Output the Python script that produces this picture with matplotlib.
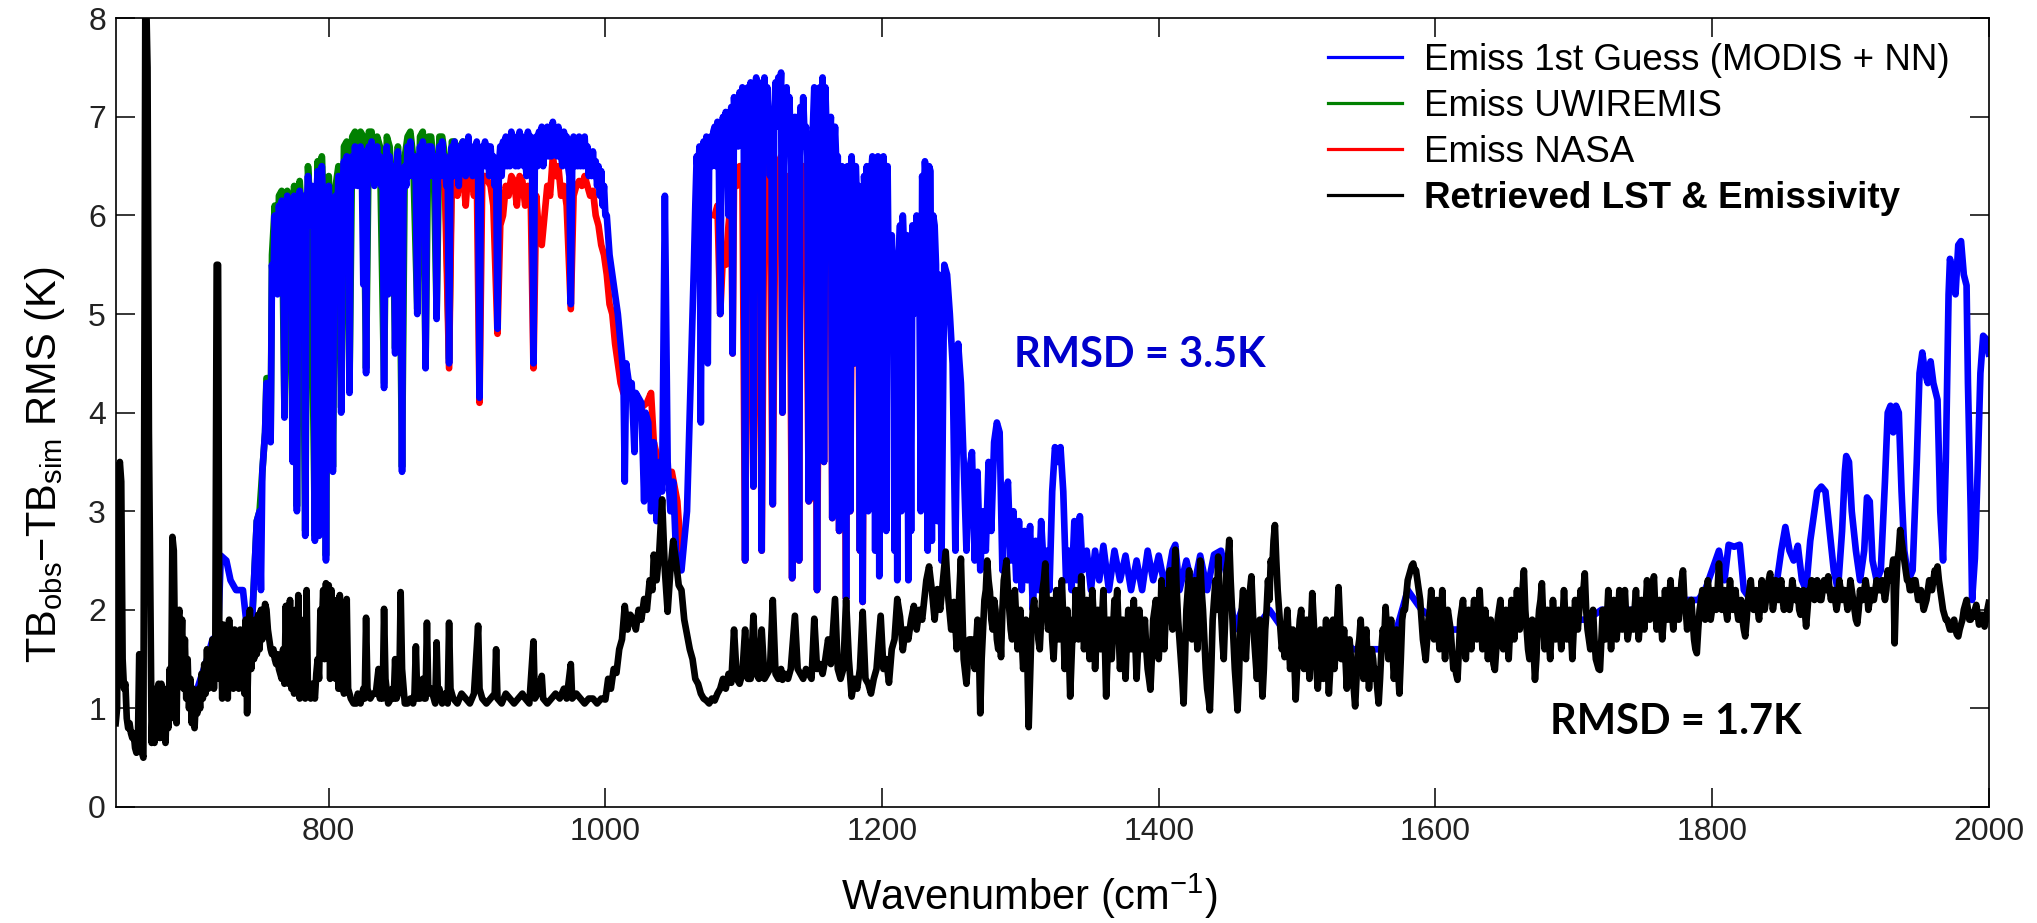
import numpy as np
import matplotlib
matplotlib.use('Agg')
import matplotlib.pyplot as plt
from matplotlib.lines import Line2D

plt.rcParams['font.family'] = ['Liberation Sans', 'DejaVu Sans']
plt.rcParams['mathtext.fontset'] = 'custom'
plt.rcParams['mathtext.rm'] = 'Liberation Sans'
plt.rcParams['mathtext.it'] = 'Liberation Sans:italic'
plt.rcParams['mathtext.bf'] = 'Liberation Sans:bold'

# series labels
labels = ['Emiss 1st Guess (MODIS + NN)', 'Emiss UWIREMIS', 'Emiss NASA',
          'Retrieved LST & Emissivity']
rmsd_texts = ['RMSD = 3.5K', 'RMSD = 1.7K']
x_ticks = [800, 1000, 1200, 1400, 1600, 1800, 2000]
y_ticks = [0, 1, 2, 3, 4, 5, 6, 7, 8]

# ---- Emiss 1st Guess (blue) ----
# sparse part, (wavenumber, RMS)
blue_pts_a = [
    (705, 1.2), (712, 1.5), (716, 1.7), (720, 1.75), (722, 2.55), (726, 2.5), (729, 2.3), (733, 2.2),
    (738, 2.2), (741, 1.8), (744, 1.7), (746, 2.3), (748, 2.9), (750, 3.0), (751, 2.2), (752, 3.4),
    (754, 3.8), (755, 4.3), (756, 4.3),
]
# window band 757..1000 cm-1, one value per cm-1
blue_band1_start = 757
blue_band1 = [
    4.3, 3.7, 5.5, 5.3, 6.0, 5.7, 5.2, 6.1, 5.8, 6.15,
    5.9, 3.95, 5.8, 6.2, 5.9, 5.6, 6.1, 3.5, 6.2, 5.8,
    3.0, 5.9, 6.25, 5.9, 5.8, 6.2, 2.75, 6.0, 6.4, 6.1,
    5.9, 6.3, 6.0, 2.7, 6.2, 6.45, 2.75, 6.2, 6.5, 6.1,
    5.7, 2.5, 6.1, 6.3, 6.0, 5.5, 3.4, 6.0, 6.2, 5.9,
    6.4, 6.1, 4.0, 6.3, 6.55, 6.2, 6.6, 6.3, 4.2, 6.4,
    6.6, 6.3, 6.7, 6.4, 6.3, 6.6, 6.7, 6.4, 5.3, 6.65,
    4.4, 6.5, 6.7, 6.4, 6.75, 6.5, 6.3, 6.6, 6.7, 6.4,
    6.6, 6.3, 6.5, 4.25, 6.4, 6.7, 5.2, 6.6, 6.4, 6.2,
    6.5, 4.6, 6.4, 6.65, 6.0, 6.3, 3.4, 6.2, 6.5, 6.3,
    6.7, 6.4, 6.75, 6.5, 6.4, 6.6, 6.3, 5.0, 6.5, 6.7,
    6.4, 6.75, 6.5, 4.45, 6.5, 6.7, 6.4, 6.7, 6.5, 6.4,
    6.6, 4.95, 6.5, 6.7, 6.4, 6.75, 6.5, 6.6, 6.3, 6.5,
    4.5, 6.5, 6.7, 6.4, 6.75, 6.5, 6.5, 6.3, 6.7, 6.5,
    6.75, 6.5, 6.4, 6.6, 6.8, 6.5, 6.7, 6.4, 6.5, 6.6,
    6.75, 6.5, 4.15, 6.5, 6.7, 6.5, 6.75, 6.5, 6.7, 6.4,
    6.7, 6.5, 6.6, 6.3, 6.5, 4.85, 6.5, 6.7, 6.4, 6.75,
    6.5, 6.8, 6.5, 6.7, 6.5, 6.85, 6.6, 6.8, 6.5, 6.6,
    6.5, 6.85, 6.6, 6.8, 6.5, 6.6, 6.4, 6.85, 6.6, 6.8,
    6.5, 4.5, 6.6, 6.8, 6.5, 6.85, 6.6, 6.9, 6.5, 6.7,
    6.6, 6.9, 6.6, 6.8, 6.6, 6.95, 6.7, 6.85, 6.6, 6.9,
    6.6, 6.6, 6.5, 6.85, 6.6, 6.8, 6.5, 6.4, 5.1, 6.5,
    6.8, 6.5, 6.75, 6.5, 6.8, 6.5, 6.7, 6.5, 6.8, 6.5,
    6.7, 6.4, 6.6, 6.4, 6.65, 6.4, 6.55, 6.3, 6.5, 6.2,
    6.45, 6.1, 6.3, 6.0,
]
blue_pts_b = [
    (1001, 6.0), (1003, 5.6), (1005, 5.4), (1007, 5.2), (1009, 5.0), (1011, 4.7), (1013, 4.4), (1014, 3.3),
    (1015, 4.5), (1017, 4.3), (1019, 4.3), (1021, 3.6), (1022, 4.2), (1024, 4.15), (1026, 4.1), (1028, 3.1),
    (1029, 4.0), (1031, 3.9), (1033, 3.0), (1035, 3.7), (1037, 2.9), (1039, 3.5), (1041, 3.2), (1043, 6.2),
    (1045, 3.5), (1047, 3.0), (1049, 3.3), (1051, 2.6), (1053, 2.45), (1055, 2.4), (1057, 2.7), (1059, 3.0),
    (1061, 4.0), (1063, 5.0),
]
# second window band 1064..1240 cm-1, one value per cm-1
blue_band2_start = 1064
blue_band2 = [
    5.5, 6.1, 6.6, 6.4, 6.7, 3.9, 6.5, 6.75, 6.4, 6.8,
    4.5, 6.6, 6.8, 6.5, 6.85, 6.9, 6.5, 6.95, 6.6, 5.0,
    6.7, 7.0, 6.6, 7.05, 6.7, 6.0, 6.8, 7.1, 4.6, 7.2,
    6.8, 7.15, 6.7, 7.25, 6.8, 7.3, 6.9, 2.5, 6.9, 7.3,
    6.8, 7.35, 6.9, 3.25, 6.9, 7.4, 6.9, 7.35, 6.8, 2.6,
    7.0, 7.4, 6.9, 7.3, 6.9, 6.4, 7.0, 3.07, 7.0, 7.35,
    6.9, 7.4, 7.0, 7.45, 4.0, 6.5, 7.0, 7.3, 6.8, 7.2,
    6.7, 2.32, 6.8, 7.0, 6.6, 7.0, 2.5, 7.1, 6.7, 7.2,
    6.8, 6.9, 6.6, 3.1, 6.7, 3.14, 6.9, 7.3, 6.8, 2.2,
    6.9, 7.3, 6.9, 7.4, 3.5, 7.3, 6.8, 6.6, 6.7, 7.0,
    2.93, 6.6, 6.9, 6.5, 6.6, 2.8, 6.4, 6.5, 6.2, 6.4,
    2.11, 6.5, 6.3, 3.0, 6.6, 6.2, 4.5, 6.5, 6.1, 6.3,
    2.6, 6.2, 2.08, 6.4, 6.1, 6.5, 3.0, 6.2, 6.4, 6.6,
    6.2, 2.6, 6.5, 6.6, 2.34, 6.5, 6.2, 6.6, 6.3, 2.8,
    6.5, 5.0, 5.6, 5.8, 5.5, 2.6, 5.4, 2.3, 5.5, 5.9,
    3.0, 6.0, 5.6, 5.5, 5.8, 2.3, 5.5, 2.8, 5.9, 5.0,
    5.6, 6.0, 5.6, 5.3, 3.0, 6.4, 6.1, 6.55, 6.3, 2.6,
    6.5, 6.45, 2.7, 6.0, 5.9, 5.5, 2.9,
]
blue_pts_c = [
    (1241, 5.4), (1243, 2.5), (1245, 5.5), (1247, 5.4), (1249, 5.0), (1251, 4.5), (1253, 2.6), (1255, 4.7),
    (1257, 4.3), (1259, 3.5), (1261, 2.6), (1263, 3.4), (1265, 3.6), (1267, 2.5), (1269, 3.4), (1271, 2.4),
    (1273, 3.0), (1275, 2.6), (1277, 3.5), (1279, 2.8), (1281, 3.7), (1283, 3.9), (1285, 3.8), (1287, 2.4),
    (1289, 3.0), (1291, 3.3), (1293, 2.5), (1295, 3.0), (1297, 2.3), (1299, 2.9), (1301, 2.2), (1303, 2.8),
    (1305, 2.3), (1307, 2.85), (1309, 2.0), (1311, 2.7), (1313, 2.2), (1315, 2.9), (1317, 2.4), (1319, 2.6),
    (1321, 2.2), (1323, 3.2), (1325, 3.65), (1327, 3.5), (1329, 3.65), (1331, 3.2), (1333, 2.3), (1335, 2.6),
    (1337, 2.2), (1339, 2.9), (1341, 2.3), (1343, 2.95), (1345, 2.4), (1348, 2.6), (1351, 2.2), (1354, 2.6),
    (1357, 2.3), (1360, 2.65), (1364, 2.2), (1368, 2.6), (1372, 2.3), (1376, 2.55), (1380, 2.2), (1384, 2.5),
    (1388, 2.2), (1392, 2.6), (1396, 2.3), (1400, 2.55), (1405, 2.2), (1410, 2.6), (1412, 2.66), (1415, 2.2),
    (1420, 2.5), (1425, 2.2), (1430, 2.55), (1435, 2.2), (1440, 2.56), (1445, 2.6), (1450, 2.3), (1455, 1.8),
    (1460, 2.0), (1470, 1.8), (1480, 2.0), (1490, 1.8), (1500, 1.7), (1510, 1.8), (1520, 1.7), (1530, 1.8),
    (1540, 1.6), (1550, 1.6), (1560, 1.6), (1570, 1.7), (1580, 2.2), (1590, 2.0), (1600, 1.9), (1610, 1.8),
    (1620, 1.8), (1630, 1.9), (1640, 1.8), (1650, 1.8), (1660, 1.9), (1670, 1.8), (1680, 1.9), (1690, 1.9),
    (1700, 1.9), (1710, 1.9), (1720, 2.0), (1730, 2.0), (1740, 2.0), (1750, 2.0), (1760, 2.0), (1770, 2.1),
    (1780, 2.1), (1790, 2.1), (1795, 2.2), (1800, 2.4), (1805, 2.6), (1809, 2.3), (1812, 2.66), (1816, 2.64),
    (1820, 2.66), (1823, 2.2), (1828, 2.1), (1835, 2.2), (1840, 2.2), (1845, 2.1), (1850, 2.6), (1853, 2.84),
    (1856, 2.6), (1859, 2.5), (1862, 2.65), (1865, 2.3), (1868, 2.2), (1871, 2.7), (1874, 3.0), (1876, 3.2),
    (1879, 3.25), (1882, 3.2), (1885, 2.8), (1888, 2.4), (1891, 2.2), (1894, 2.8), (1896, 3.4), (1897, 3.56),
    (1899, 3.5), (1901, 3.0), (1904, 2.6), (1907, 2.3), (1910, 2.6), (1912, 3.14), (1914, 3.1), (1916, 2.5),
    (1919, 2.3), (1922, 2.4), (1925, 3.3), (1927, 4.0), (1929, 4.07), (1931, 3.8), (1933, 4.07), (1935, 4.0),
    (1937, 3.2), (1939, 2.6), (1942, 2.3), (1945, 2.4), (1948, 3.5), (1950, 4.4), (1952, 4.61), (1954, 4.4),
    (1956, 4.3), (1958, 4.52), (1960, 4.3), (1963, 4.13), (1965, 3.0), (1967, 2.5), (1969, 3.5), (1971, 5.2),
    (1972, 5.56), (1974, 5.4), (1976, 5.2), (1978, 5.7), (1980, 5.74), (1982, 5.4), (1984, 5.29), (1985, 4.3),
    (1987, 3.0), (1988, 2.1), (1990, 2.52), (1992, 3.4), (1994, 4.4), (1996, 4.78), (1998, 4.75), (2000, 4.6),
]

# ---- Emiss UWIREMIS (green), only where it shows ----
green_pts = [
    (744, 1.7), (746, 2.3), (748, 2.9), (750, 3.0), (752, 3.4), (754, 3.8), (755, 4.35), (757, 4.35),
    (758, 3.75), (759, 5.6), (761, 6.1), (763, 5.3), (764, 6.2), (766, 6.25), (768, 4.0), (770, 6.25),
    (772, 5.7), (774, 3.55), (775, 6.3), (777, 3.05), (779, 6.35), (781, 5.9), (783, 2.8), (785, 6.5),
    (787, 6.0), (790, 2.75), (792, 6.55), (793, 2.8), (795, 6.6), (797, 5.8), (798, 2.55), (800, 6.4),
    (802, 5.6), (803, 3.45), (805, 6.3), (807, 6.5), (809, 4.05), (811, 6.7), (813, 6.75), (815, 4.25),
    (817, 6.8), (819, 6.85), (821, 6.5), (823, 6.85), (825, 6.8), (827, 4.45), (829, 6.85), (831, 6.85),
    (833, 6.4), (835, 6.8), (837, 6.7), (840, 4.3), (842, 6.8), (844, 6.7), (846, 6.3), (848, 4.65),
    (850, 6.7), (851, 6.1), (853, 3.45), (855, 6.6), (857, 6.8), (859, 6.85), (861, 6.6), (864, 5.05),
    (866, 6.8), (868, 6.85), (870, 4.5), (872, 6.8), (874, 6.8), (876, 6.5), (878, 5.0), (880, 6.8),
    (882, 6.8), (884, 6.6), (887, 4.55), (889, 6.75), (891, 6.75), (893, 6.5), (895, 6.7), (897, 6.75),
    (899, 6.4), (901, 6.75),
]

# ---- Emiss NASA (red), only where it shows ----
red_pts_a = [
    (880, 6.4), (882, 6.45), (884, 6.3), (887, 4.45), (889, 6.4), (891, 6.45), (893, 6.2), (895, 6.4),
    (897, 6.45), (899, 6.1), (901, 6.5), (903, 6.4), (905, 6.2), (907, 6.45), (909, 4.1), (911, 6.4),
    (913, 6.4), (915, 6.35), (917, 6.3), (919, 6.1), (922, 4.8), (924, 5.9), (926, 6.0), (928, 6.3),
    (930, 6.2), (932, 6.4), (934, 6.35), (936, 6.1), (938, 6.4), (940, 6.35), (942, 6.1), (944, 6.3),
    (946, 6.2), (948, 4.45), (950, 6.2), (952, 5.8), (954, 5.7), (956, 6.0), (958, 6.3), (960, 6.2),
    (962, 6.6), (964, 6.4), (966, 6.5), (968, 6.2), (970, 6.3), (972, 6.1), (975, 5.05), (977, 6.2),
    (979, 6.3), (981, 6.35), (983, 6.3), (985, 6.4), (987, 6.3), (989, 6.2), (991, 6.25), (993, 6.0),
    (995, 5.9), (997, 5.7), (999, 5.6), (1001, 5.4), (1003, 5.1), (1005, 5.0), (1007, 4.7), (1009, 4.5),
    (1011, 4.3), (1013, 4.2), (1020, 4.15), (1026, 4.05), (1030, 4.1), (1033, 4.2), (1035, 3.7), (1040, 3.4),
    (1044, 3.3), (1048, 3.4), (1052, 3.1), (1055, 2.5),
]
red_pts_b = [
    (1079, 6.0), (1081, 6.1), (1083, 5.0), (1085, 5.6), (1087, 5.5), (1089, 5.9), (1091, 6.2), (1092, 4.6),
    (1093, 6.4), (1095, 6.3), (1097, 6.5), (1099, 6.5), (1101, 2.5), (1103, 6.5), (1105, 6.4), (1107, 3.25),
    (1109, 6.4), (1111, 6.5), (1113, 2.6), (1115, 6.5), (1117, 6.4), (1119, 6.0), (1121, 3.07), (1123, 6.4),
    (1125, 6.5), (1127, 6.6), (1128, 4.0), (1129, 6.2), (1131, 6.4), (1133, 6.3), (1135, 2.32), (1137, 6.2),
    (1139, 6.3), (1140, 2.5), (1141, 6.3), (1143, 6.5), (1145, 6.2), (1147, 3.1), (1149, 3.14), (1151, 6.4),
    (1153, 2.2), (1155, 6.5), (1157, 6.5), (1158, 3.5), (1159, 6.4), (1161, 6.0), (1163, 6.1), (1164, 2.93),
    (1166, 6.0), (1168, 5.8), (1169, 2.8), (1171, 5.5), (1172, 5.4), (1174, 2.11), (1175, 5.3), (1177, 3.0),
    (1178, 5.2), (1180, 4.5), (1181, 5.2), (1183, 5.3), (1184, 2.6), (1185, 5.2), (1186, 2.08), (1187, 5.2),
    (1189, 5.4),
]

# ---- Retrieved LST & Emissivity (black) ----
black_pts = [
    (646, 0.85), (647, 1.0), (648, 3.4), (649, 3.5), (650, 3.3), (651, 1.5), (652, 1.2), (653, 1.25),
    (654, 0.9), (655, 0.8), (656, 0.85), (657, 0.75), (658, 0.7), (659, 0.75), (660, 0.6), (661, 0.55),
    (662, 0.6), (663, 1.55), (664, 1.5), (665, 0.55), (666, 0.5), (667.5, 8.6), (669, 7.5), (670, 3.8),
    (672, 0.65), (673, 1.1), (674, 0.65), (675, 1.2), (676, 0.7), (677, 1.25), (678, 0.7), (679, 1.25),
    (680, 0.7), (681, 1.2), (682, 0.65), (683, 1.1), (684, 0.8), (685, 1.4), (686, 0.9), (687, 2.74),
    (688, 2.6), (689, 1.4), (690, 0.85), (691, 1.9), (692, 2.0), (693, 1.5), (694, 1.9), (695, 1.2),
    (696, 1.7), (697, 1.1), (698, 1.5), (699, 1.0), (700, 1.3), (701, 0.85), (702, 1.2), (703, 0.8),
    (704, 1.1), (705, 0.95), (706, 1.2), (707, 1.0), (708, 1.35), (709, 1.1), (710, 1.45), (711, 1.15),
    (712, 1.6), (713, 1.2), (714, 1.45), (715, 1.25), (716, 1.7), (717, 1.2), (718, 1.6), (719, 5.5),
    (720, 5.5), (721, 1.3), (722, 1.8), (723, 1.1), (724, 1.85), (725, 1.2), (726, 1.8), (727, 1.1),
    (728, 1.9), (729, 1.25), (730, 1.7), (731, 1.2), (732, 1.8), (733, 1.3), (734, 1.75), (735, 1.2),
    (736, 1.8), (737, 1.3), (738, 1.7), (739, 1.15), (740, 1.9), (741, 0.95), (742, 1.6), (743, 2.0),
    (744, 1.4), (745, 1.8), (746, 1.5), (747, 1.9), (748, 1.55), (749, 1.95), (750, 1.6), (751, 2.0),
    (752, 1.7), (753, 1.9), (754, 2.06), (755, 2.0), (756, 1.8), (757, 1.7), (758, 1.6), (759, 1.55),
    (760, 1.6), (761, 1.5), (762, 1.45), (763, 1.55), (764, 1.4), (765, 1.35), (766, 1.3), (767, 1.6),
    (768, 1.25), (769, 2.04), (770, 1.3), (771, 1.25), (772, 2.1), (773, 1.2), (774, 1.35), (775, 1.15),
    (776, 2.0), (777, 1.2), (778, 2.15), (779, 1.1), (780, 1.9), (781, 1.15), (782, 1.4), (783, 1.1),
    (784, 2.2), (785, 1.15), (786, 1.2), (787, 1.1), (788, 1.25), (789, 1.2), (790, 1.1), (791, 1.35),
    (792, 1.5), (793, 1.3), (794, 2.0), (795, 1.8), (796, 2.2), (797, 1.5), (798, 2.27), (799, 1.7),
    (800, 2.25), (801, 1.3), (802, 2.2), (803, 1.5), (804, 2.1), (805, 1.3), (806, 2.0), (807, 1.2),
    (808, 2.15), (809, 1.2), (810, 1.3), (811, 1.15), (812, 1.25), (813, 2.11), (814, 1.2), (815, 1.15),
    (816, 1.1), (818, 1.05), (820, 1.05), (821, 1.15), (823, 1.05), (825, 1.2), (826, 1.1), (827, 1.92),
    (828, 1.2), (830, 1.1), (832, 1.15), (834, 1.15), (836, 1.4), (837, 1.1), (838, 1.2), (839, 1.1),
    (840, 2.01), (841, 1.3), (843, 1.05), (845, 1.1), (846, 1.2), (847, 1.1), (848, 1.5), (849, 1.1),
    (851, 1.2), (852, 2.18), (853, 1.4), (855, 1.05), (857, 1.05), (859, 1.1), (861, 1.05), (862, 1.15),
    (863, 1.63), (864, 1.1), (866, 1.1), (868, 1.3), (869, 1.1), (870, 1.1), (871, 1.87), (872, 1.15),
    (874, 1.2), (876, 1.1), (877, 1.05), (878, 1.67), (879, 1.1), (880, 1.2), (882, 1.05), (884, 1.15),
    (886, 1.05), (887, 1.87), (888, 1.2), (890, 1.1), (893, 1.05), (896, 1.15), (899, 1.1), (902, 1.05),
    (905, 1.15), (908, 1.84), (909, 1.2), (911, 1.1), (914, 1.05), (917, 1.1), (920, 1.15), (921, 1.6),
    (922, 1.1), (925, 1.05), (928, 1.15), (931, 1.1), (934, 1.05), (937, 1.1), (940, 1.15), (942, 1.1),
    (945, 1.05), (948, 1.68), (949, 1.1), (951, 1.15), (954, 1.33), (955, 1.1), (958, 1.05), (961, 1.1),
    (964, 1.15), (967, 1.1), (970, 1.2), (972, 1.1), (975, 1.45), (976, 1.1), (979, 1.15), (982, 1.1),
    (985, 1.05), (988, 1.1), (991, 1.1), (994, 1.05), (997, 1.1), (1000, 1.09), (1002, 1.3), (1004, 1.2),
    (1006, 1.4), (1008, 1.36), (1010, 1.6), (1012, 1.7), (1014, 2.04), (1016, 1.8), (1018, 1.95), (1020, 1.91),
    (1022, 1.8), (1024, 2.0), (1026, 1.9), (1028, 2.11), (1030, 2.0), (1032, 2.3), (1034, 2.2), (1035, 2.56),
    (1037, 2.3), (1039, 2.6), (1041, 3.12), (1043, 2.4), (1045, 1.98), (1047, 2.4), (1049, 2.7), (1051, 2.5),
    (1053, 2.25), (1055, 2.2), (1057, 1.9), (1059, 1.75), (1061, 1.6), (1063, 1.5), (1065, 1.3), (1067, 1.25),
    (1069, 1.15), (1071, 1.1), (1073, 1.08), (1075, 1.05), (1077, 1.1), (1079, 1.08), (1081, 1.15), (1083, 1.2),
    (1085, 1.3), (1087, 1.2), (1089, 1.35), (1091, 1.26), (1093, 1.8), (1095, 1.3), (1097, 1.25), (1099, 1.35),
    (1101, 1.8), (1103, 1.3), (1105, 1.3), (1107, 1.94), (1109, 1.35), (1111, 1.3), (1113, 1.8), (1115, 1.3),
    (1117, 1.35), (1119, 1.4), (1121, 2.1), (1123, 1.35), (1125, 1.3), (1127, 1.4), (1128, 1.29), (1130, 1.35),
    (1132, 1.3), (1134, 1.4), (1137, 1.94), (1139, 1.4), (1141, 1.35), (1143, 1.3), (1145, 1.4), (1147, 1.35),
    (1149, 1.3), (1151, 1.91), (1153, 1.4), (1155, 1.45), (1157, 1.35), (1159, 1.5), (1161, 1.7), (1163, 1.45),
    (1166, 2.11), (1168, 1.4), (1170, 1.3), (1172, 1.4), (1174, 2.1), (1176, 1.5), (1178, 1.12), (1180, 1.3),
    (1182, 1.2), (1184, 1.4), (1186, 1.98), (1188, 1.3), (1190, 1.25), (1192, 1.15), (1194, 1.3), (1196, 1.4),
    (1199, 1.94), (1201, 1.4), (1203, 1.5), (1205, 1.26), (1207, 1.6), (1209, 1.7), (1211, 2.11), (1213, 1.93),
    (1215, 1.59), (1217, 1.8), (1219, 1.7), (1221, 1.9), (1223, 2.04), (1225, 1.8), (1227, 2.0), (1229, 1.9),
    (1232, 2.3), (1234, 2.44), (1236, 2.2), (1238, 1.9), (1240, 2.21), (1242, 2.0), (1244, 2.3), (1246, 2.59),
    (1248, 2.1), (1250, 1.8), (1252, 2.08), (1254, 1.6), (1256, 2.2), (1257, 2.52), (1259, 1.5), (1261, 1.25),
    (1263, 1.7), (1265, 1.7), (1267, 1.4), (1269, 1.9),
]
# dense part 1270..2000 cm-1, one value per cm-1
black_dense_start = 1270
black_dense = [
    1.6, 0.95, 1.5, 1.8, 2.1, 2.2, 2.5, 2.3, 2.18, 1.9, 1.8, 2.1, 2.0, 1.7, 1.6, 1.9, 1.52, 2.0, 2.3, 2.4,
    2.5, 2.2, 2.0, 1.8, 1.7, 2.0, 2.2, 1.9, 1.6, 1.8, 2.0, 1.7, 1.4, 1.6, 1.9, 1.5, 0.81, 1.3, 1.8, 2.0,
    2.1, 1.8, 1.99, 1.7, 1.6, 1.9, 2.2, 2.3, 2.47, 2.1, 1.8, 1.9, 2.1, 1.7, 1.5, 1.8, 2.2, 1.9, 1.7, 1.9,
    2.3, 1.9, 1.4, 1.7, 2.0, 1.6, 1.12, 1.5, 1.9, 1.7, 2.2, 1.9, 1.7, 2.0, 2.34, 2.0, 1.6, 1.8, 2.1, 1.8,
    1.5, 1.8, 2.2, 1.9, 1.4, 1.7, 2.0, 1.8, 1.6, 1.9, 2.2, 1.7, 1.12, 1.5, 1.9, 1.7, 1.5, 1.8, 2.1, 2.0,
    2.2, 1.8, 1.4, 1.6, 1.9, 1.6, 1.3, 1.7, 2.0, 1.8, 1.6, 1.9, 2.1, 1.7, 1.3, 1.6, 2.0, 1.8, 1.6, 1.7,
    1.9, 1.6, 1.4, 1.3, 1.19, 1.5, 1.9, 2.0, 2.1, 1.8, 1.5, 1.8, 2.3, 1.9, 1.6, 1.9, 2.2, 2.0, 2.4, 2.0,
    1.8, 2.2, 2.61, 2.2, 1.9, 1.7, 1.5, 1.3, 1.05, 1.5, 2.0, 2.2, 2.4, 2.0, 1.7, 2.0, 2.3, 1.9, 1.6, 2.0,
    2.5, 2.2, 2.0, 1.7, 1.4, 1.2, 1.1, 0.98, 1.4, 1.9, 2.1, 2.3, 2.0, 2.54, 2.2, 2.0, 1.7, 1.5, 1.9, 2.4,
    2.5, 2.71, 2.3, 2.0, 1.7, 1.4, 1.2, 0.98, 1.3, 1.8, 2.0, 2.2, 1.8, 1.5, 1.8, 2.1, 2.2, 2.34, 2.0, 1.7,
    1.5, 1.3, 1.6, 1.9, 1.5, 1.12, 1.4, 1.8, 2.0, 2.3, 2.1, 2.5, 2.4, 2.7, 2.86, 2.5, 2.2, 2.0, 1.8, 1.6,
    1.7, 1.52, 1.8, 2.0, 1.7, 1.4, 1.6, 1.8, 1.5, 1.09, 1.4, 1.7, 1.9, 2.0, 1.7, 1.4, 1.6, 1.9, 1.6, 1.3,
    1.8, 2.17, 1.9, 1.6, 1.4, 1.2, 1.5, 1.8, 1.6, 1.3, 1.6, 1.9, 1.5, 1.15, 1.4, 1.7, 1.9, 1.4, 1.6, 1.9,
    2.23, 1.9, 1.5, 1.6, 1.8, 1.5, 1.2, 1.5, 1.7, 1.5, 1.3, 1.2, 1.02, 1.3, 1.6, 1.7, 1.9, 1.6, 1.3, 1.6,
    1.8, 1.5, 1.2, 1.4, 1.6, 1.5, 1.3, 1.4, 1.2, 1.05, 1.3, 1.6, 1.8, 1.7, 2.03, 1.8, 1.5, 1.7, 1.9, 1.6,
    1.3, 1.5, 1.8, 1.4, 1.15, 1.5, 1.9, 2.0, 2.0, 2.15, 2.3, 2.35, 2.4, 2.45, 2.47, 2.4, 2.4, 2.3, 2.2, 2.1,
    1.9, 1.7, 1.6, 1.49, 1.7, 1.9, 2.0, 2.2, 1.9, 1.7, 1.9, 2.1, 1.8, 1.6, 1.9, 2.2, 1.8, 1.5, 1.8, 2.0,
    1.9, 1.8, 1.6, 1.4, 1.5, 1.35, 1.29, 1.6, 1.9, 2.0, 2.1, 1.8, 1.5, 1.8, 2.0, 1.8, 1.6, 1.9, 2.1, 1.9,
    1.7, 1.9, 2.2, 1.9, 1.6, 1.8, 2.0, 1.8, 1.5, 1.7, 1.9, 1.6, 1.45, 1.39, 1.6, 1.9, 2.0, 2.1, 1.8, 1.6,
    1.8, 2.0, 1.7, 1.5, 1.8, 2.1, 1.9, 1.7, 1.9, 2.2, 1.9, 1.8, 2.0, 2.2, 2.4, 2.0, 1.8, 1.6, 1.5, 1.7,
    1.9, 1.6, 1.29, 1.5, 1.8, 2.0, 2.1, 2.27, 1.9, 1.6, 1.8, 2.0, 1.7, 1.5, 1.8, 2.1, 1.9, 1.7, 1.8, 2.0,
    1.8, 1.6, 1.9, 2.2, 1.9, 1.7, 1.8, 2.0, 1.8, 1.5, 1.8, 2.1, 1.9, 1.8, 2.0, 2.2, 2.1, 2.2, 2.37, 2.0,
    1.8, 1.7, 1.6, 1.8, 2.0, 1.7, 1.5, 1.45, 1.4, 1.39, 1.7, 2.0, 1.9, 1.7, 1.9, 2.2, 1.9, 1.6, 1.9, 2.1,
    1.9, 1.7, 1.9, 2.2, 2.0, 1.8, 2.0, 2.2, 1.9, 1.7, 1.8, 2.0, 1.9, 1.8, 2.0, 2.2, 1.9, 1.7, 1.9, 2.1,
    2.0, 1.8, 2.0, 2.3, 2.1, 1.9, 2.0, 2.2, 2.34, 2.0, 1.8, 1.9, 2.1, 1.9, 1.7, 1.9, 2.2, 2.0, 1.9, 2.1,
    2.3, 2.0, 1.8, 2.0, 2.2, 2.0, 1.9, 2.1, 2.3, 2.4, 2.1, 2.0, 1.8, 1.9, 2.0, 2.1, 1.9, 1.7, 1.6, 1.56,
    1.8, 2.0, 2.1, 2.2, 2.0, 1.9, 2.1, 2.3, 2.1, 1.9, 2.0, 2.2, 2.1, 2.0, 2.2, 2.47, 2.2, 2.0, 2.1, 2.2,
    2.0, 1.9, 2.1, 2.3, 2.1, 2.0, 2.1, 2.2, 2.0, 1.9, 2.0, 2.1, 1.9, 1.8, 1.73, 1.9, 2.1, 2.2, 2.3, 2.1,
    2.0, 2.1, 2.2, 2.0, 1.9, 2.1, 2.3, 2.1, 2.0, 2.1, 2.2, 2.3, 2.37, 2.2, 2.0, 2.1, 2.3, 2.2, 2.1, 2.2,
    2.3, 2.1, 2.0, 2.1, 2.2, 2.1, 2.0, 2.1, 2.3, 2.2, 2.1, 2.1, 2.2, 2.0, 1.95, 2.1, 2.2, 2.0, 1.83, 2.0,
    2.2, 2.2, 2.3, 2.2, 2.1, 2.2, 2.3, 2.2, 2.1, 2.1, 2.2, 2.3, 2.3, 2.2, 2.34, 2.2, 2.1, 2.2, 2.2, 2.1,
    2.0, 2.1, 2.3, 2.2, 2.1, 2.2, 2.2, 2.1, 2.0, 2.1, 2.3, 2.2, 2.1, 2.0, 1.9, 1.86, 2.0, 2.2, 2.1, 2.1,
    2.2, 2.3, 2.2, 2.0, 2.1, 2.2, 2.1, 2.1, 2.2, 2.3, 2.2, 2.2, 2.2, 2.3, 2.2, 2.1, 2.2, 2.4, 2.3, 2.3,
    2.4, 2.51, 1.66, 2.2, 2.5, 2.6, 2.81, 2.7, 2.6, 2.5, 2.4, 2.3, 2.3, 2.2, 2.2, 2.25, 2.3, 2.3, 2.2, 2.1,
    2.15, 2.2, 2.1, 2.0, 2.05, 2.1, 2.2, 2.3, 2.25, 2.2, 2.3, 2.4, 2.35, 2.44, 2.3, 2.2, 2.1, 2.0, 1.95, 1.9,
    1.9, 1.85, 1.8, 1.8, 1.85, 1.9, 1.8, 1.75, 1.73, 1.8, 1.85, 1.9, 2.0, 2.05, 2.1, 2.0, 1.9, 1.9, 1.95, 1.93,
    2.0, 2.05, 1.95, 1.85, 1.9, 1.95, 1.9, 1.83, 1.9, 2.0, 2.07,
]


def unzip(pts):
    arr = np.array(pts, dtype=float)
    return arr[:, 0], arr[:, 1]


def grid(start, vals):
    # one reading per cm-1 starting at `start`
    return np.arange(start, start + len(vals), dtype=float), np.array(vals, dtype=float)


W, H = 2037, 923
fig = plt.figure(figsize=(W / 100, H / 100), dpi=100)
ax = fig.add_axes([115.7 / W, 1 - 807 / H, (1988.7 - 115.7) / W, (807 - 18.3) / H])

lw = 4.8
gx, gy = unzip(green_pts)
ax.plot(gx, gy, color='#008000', lw=lw, solid_joinstyle='round')
for pts in (red_pts_a, red_pts_b):
    rx, ry = unzip(pts)
    ax.plot(rx, ry, color='#FF0000', lw=lw, solid_joinstyle='round')

parts = [unzip(blue_pts_a), grid(blue_band1_start, blue_band1), unzip(blue_pts_b),
         grid(blue_band2_start, blue_band2), unzip(blue_pts_c)]
bx = np.concatenate([p[0] for p in parts])
by = np.concatenate([p[1] for p in parts])
ax.plot(bx, by, color='#0000FF', lw=lw, solid_joinstyle='round')

kparts = [unzip(black_pts), grid(black_dense_start, black_dense)]
kx = np.concatenate([p[0] for p in kparts])
ky = np.concatenate([p[1] for p in kparts])
ax.plot(kx, ky, color='black', lw=lw, solid_joinstyle='round')

ax.set_xlim(646, 2000)
ax.set_ylim(0, 8)
ax.set_xticks(x_ticks)
ax.set_yticks(y_ticks)
ax.tick_params(direction='in', length=14, width=1.1, top=True, right=True,
               labelsize=23, pad=7, labelcolor='#222222')
for sp in ax.spines.values():
    sp.set_linewidth(1.2)

ax.set_xlabel('Wavenumber (cm$^{-1}$)', fontsize=30)
ax.xaxis.set_label_coords(0.488, -0.082)
ax.set_ylabel(r'TB$_{\mathrm{obs}}$$-$TB$_{\mathrm{sim}}$ RMS (K)', fontsize=30)
ax.yaxis.set_label_coords(-0.026, 0.434)

handles = [Line2D([], [], color=c, lw=2.3) for c in ('#0000FF', '#008000', '#FF0000', 'black')]
leg = ax.legend(handles, labels, loc='upper left', bbox_to_anchor=(1328 / W, 1 - 43 / H),
                bbox_transform=fig.transFigure, frameon=False, fontsize=26.5,
                handlelength=2.0, handletextpad=0.6, labelspacing=0.3,
                borderpad=0, borderaxespad=0)
leg.get_texts()[3].set_fontweight('bold')

ax.text(1386, 4.58, rmsd_texts[0], color='#0000CC', fontsize=30, fontweight='bold',
        family='Lato', ha='center', va='center')
ax.text(1774, 0.86, rmsd_texts[1], color='black', fontsize=30, fontweight='bold',
        family='Lato', ha='center', va='center')

fig.savefig('out.png', dpi=100)
